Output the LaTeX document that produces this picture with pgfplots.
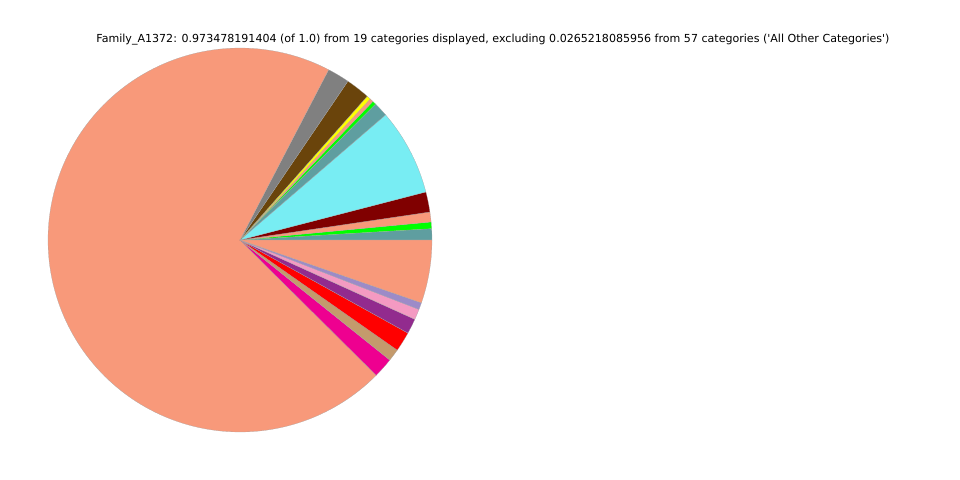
\documentclass[border=0pt]{standalone}
\usepackage{fontspec}
\setmainfont{DejaVu Sans}
\usepackage{pgfplots}
\pgfplotsset{compat=1.18}
\usepgfplotslibrary{polar}
\definecolor{csalmon}{HTML}{F8997A}
\definecolor{cteal}{HTML}{5F9EA0}
\definecolor{clime}{HTML}{00FF00}
\definecolor{cmaroon}{HTML}{800000}
\definecolor{ccyan}{HTML}{78EDF3}
\definecolor{cyellow}{HTML}{FFFF00}
\definecolor{cbrown}{HTML}{6A440B}
\definecolor{cgray}{HTML}{808080}
\definecolor{cmagenta}{HTML}{EE0090}
\definecolor{ctan}{HTML}{C49A6C}
\definecolor{cred}{HTML}{FF0000}
\definecolor{cpurple}{HTML}{922B8E}
\definecolor{cpink}{HTML}{F49AC2}
\definecolor{clav}{HTML}{9C8BC8}
\begin{document}
\begin{tikzpicture}
\useasboundingbox (-240bp,-240bp) rectangle (720bp,240bp);
\begin{polaraxis}[
  at={(0,0)}, anchor=center,
  scale only axis, width=384bp, height=384bp,
  xmin=0, xmax=360, ymin=0, ymax=1,
  hide axis, clip=false,
]
% slice boundaries (degrees, counterclockwise from 0)
\pgfplotsset{slice/.style={draw=gray!70, line width=0.2pt, fill=#1}}
\addplot[slice=cteal,    domain=0:3.4,     samples=4]   {1} -- (axis cs:0,0) -- cycle;
\addplot[slice=clime,    domain=3.4:5.4,   samples=3]   {1} -- (axis cs:0,0) -- cycle;
\addplot[slice=csalmon,  domain=5.4:8.4,   samples=4]   {1} -- (axis cs:0,0) -- cycle;
\addplot[slice=cmaroon,  domain=8.4:14.5,  samples=6]   {1} -- (axis cs:0,0) -- cycle;
\addplot[slice=ccyan,    domain=14.5:40.7, samples=20]  {1} -- (axis cs:0,0) -- cycle;
\addplot[slice=cteal,    domain=40.7:45.1, samples=4]   {1} -- (axis cs:0,0) -- cycle;
\addplot[slice=clime,    domain=45.1:46.2, samples=2]   {1} -- (axis cs:0,0) -- cycle;
\addplot[slice=csalmon,  domain=46.2:47.3, samples=2]   {1} -- (axis cs:0,0) -- cycle;
\addplot[slice=cyellow,  domain=47.3:48.5, samples=2]   {1} -- (axis cs:0,0) -- cycle;
\addplot[slice=cbrown,   domain=48.5:55.8, samples=6]   {1} -- (axis cs:0,0) -- cycle;
\addplot[slice=cgray,    domain=55.8:62.5, samples=6]   {1} -- (axis cs:0,0) -- cycle;
\addplot[slice=csalmon,  domain=62.5:315.2,samples=150] {1} -- (axis cs:0,0) -- cycle;
\addplot[slice=cmagenta, domain=315.2:321.3,samples=6]  {1} -- (axis cs:0,0) -- cycle;
\addplot[slice=ctan,     domain=321.3:325.0,samples=4]  {1} -- (axis cs:0,0) -- cycle;
\addplot[slice=cred,     domain=325.0:331.0,samples=6]  {1} -- (axis cs:0,0) -- cycle;
\addplot[slice=cpurple,  domain=331.0:335.6,samples=4]  {1} -- (axis cs:0,0) -- cycle;
\addplot[slice=cpink,    domain=335.6:338.8,samples=3]  {1} -- (axis cs:0,0) -- cycle;
\addplot[slice=clav,     domain=338.8:340.9,samples=3]  {1} -- (axis cs:0,0) -- cycle;
\addplot[slice=csalmon,  domain=340.9:360,  samples=14] {1} -- (axis cs:0,0) -- cycle;
\end{polaraxis}
\node[font=\fontsize{11.1}{13}\selectfont, inner sep=0pt] at (253bp,200bp)
  {Family\_A1372: 0.973478191404 (of 1.0) from 19 categories displayed, excluding 0.0265218085956 from 57 categories (\textquotesingle All Other Categories\textquotesingle)};
\end{tikzpicture}
\end{document}
